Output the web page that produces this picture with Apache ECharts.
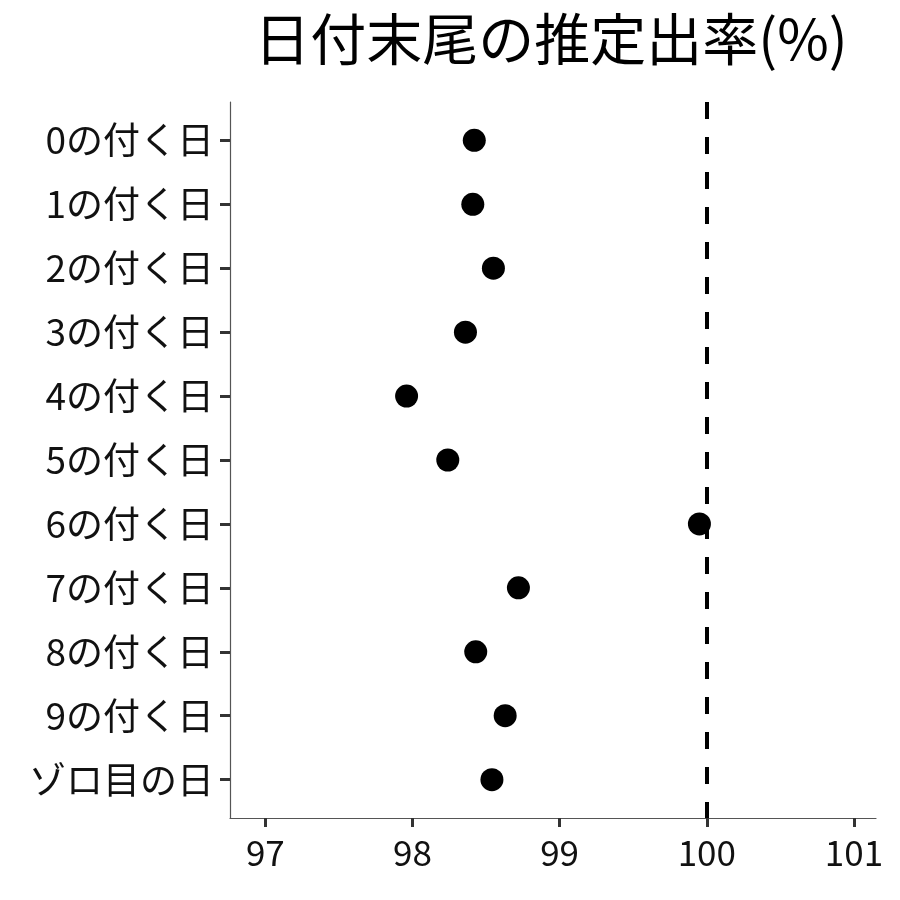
<!DOCTYPE html>
<html>
<head>
<meta charset="utf-8">
<script src="https://cdn.jsdelivr.net/npm/echarts@6/dist/echarts.min.js"></script>
<style>
  html, body { margin: 0; padding: 0; background: #fff; }
  #main { width: 900px; height: 900px; }
</style>
</head>
<body>
<div id="main"></div>
<script>
// カテゴリと推定出率(%)
var categories = ['0の付く日', '1の付く日', '2の付く日', '3の付く日', '4の付く日',
                  '5の付く日', '6の付く日', '7の付く日', '8の付く日', '9の付く日', 'ゾロ目の日'];
var rates = [98.42, 98.41, 98.55, 98.36, 97.96, 98.24, 99.95, 98.72, 98.43, 98.63, 98.54];
var xTicks = [97, 98, 99, 100, 101];
var refLine = 100;

var chart = echarts.init(document.getElementById('main'));
var font = '"Noto Sans CJK JP", "Noto Sans", sans-serif';

var points = rates.map(function (v, i) { return [v, i]; });
var yTicks = categories.map(function (c, i) { return i; });

var option = {
    backgroundColor: '#fff',
    animation: false,
    title: {
        text: '日付末尾の推定出率(%)',
        left: 546,
        textAlign: 'center',
        top: 6,
        textStyle: { fontFamily: font, fontSize: 56, fontWeight: 'normal', color: '#000' }
    },
    grid: { left: 230, right: 24, top: 102, bottom: 82, containLabel: false },
    xAxis: {
        type: 'value',
        min: 96.76,
        max: 101.15,
        splitLine: { show: false },
        axisLine: { show: true, onZero: false, lineStyle: { color: '#555', width: 1.2 } },
        axisTick: { show: true, length: 9, customValues: xTicks, lineStyle: { color: '#333', width: 3 } },
        axisLabel: { customValues: xTicks, margin: 17, fontFamily: font, fontSize: 35, color: '#111' }
    },
    yAxis: {
        type: 'value',
        inverse: true,
        min: -0.6,
        max: 10.6,
        splitLine: { show: false },
        axisLine: { show: true, onZero: false, lineStyle: { color: '#555', width: 1.2 } },
        axisTick: { show: true, length: 10, customValues: yTicks, lineStyle: { color: '#333', width: 3 } },
        axisLabel: {
            customValues: yTicks, margin: 16, fontFamily: font, fontSize: 37, color: '#111',
            formatter: function (v) { return categories[v]; }
        }
    },
    series: [{
        type: 'scatter',
        data: points,
        symbol: 'circle',
        symbolSize: 23,
        itemStyle: { color: '#000', opacity: 1 },
        markLine: {
            silent: true,
            symbol: ['none', 'none'],
            label: { show: false },
            lineStyle: { color: '#000', width: 4, type: [17, 18] },
            data: [{ xAxis: refLine }]
        }
    }]
};

chart.setOption(option);
</script>
</body>
</html>
